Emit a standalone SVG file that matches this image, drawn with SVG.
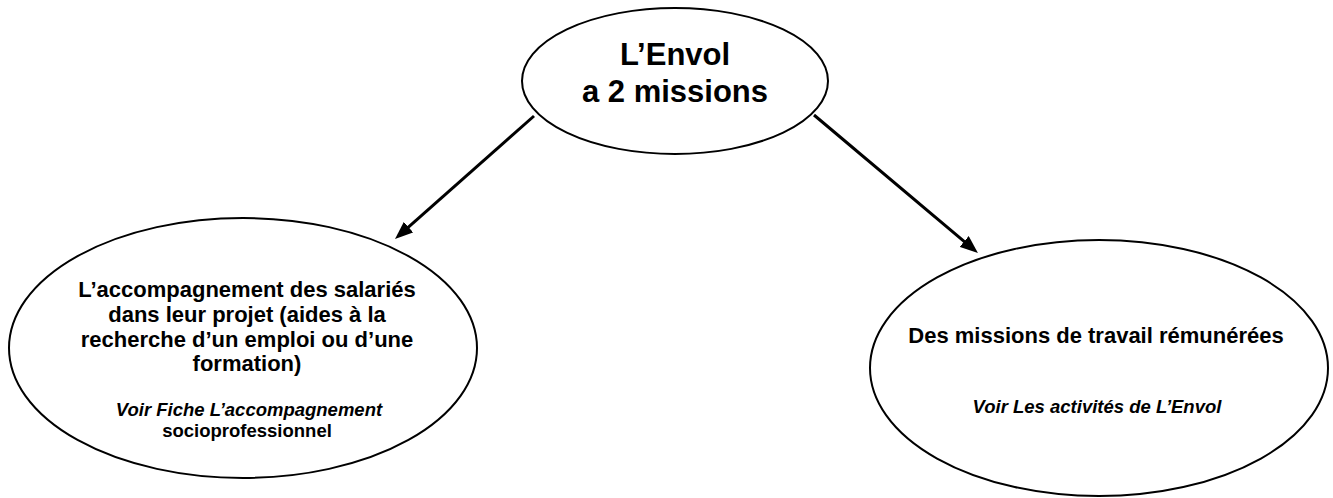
<svg xmlns="http://www.w3.org/2000/svg" width="1333" height="498" viewBox="0 0 1333 498">
<style>
.node{fill:#fff;stroke:#000;stroke-width:2}
.t{font-family:"Liberation Sans",Arial,sans-serif;font-weight:bold;fill:#000;text-anchor:middle}
.big{font-size:31px}
.mid{font-size:22px}
.it{font-size:18.5px;font-style:italic}
.sm{font-size:18.5px}
.conn{stroke:#000;stroke-width:3;fill:none}
</style>
<defs>
<marker id="arr" viewBox="0 0 18 14" refX="8" refY="7" markerWidth="18" markerHeight="14" markerUnits="userSpaceOnUse" orient="auto">
<path d="M0,0 L18,7 L0,14 Z" fill="#000"/>
</marker>
</defs>
<rect width="1333" height="498" fill="#fff"/>
<g id="connectors">
<line class="conn" x1="534" y1="116" x2="402.5" y2="232.4" marker-end="url(#arr)"/>
<line class="conn" x1="814" y1="115" x2="970.3" y2="246.6" marker-end="url(#arr)"/>
</g>
<g id="node-top">
<ellipse class="node" cx="675" cy="81" rx="153" ry="73"/>
<text class="t big" x="675" y="65">L’Envol</text>
<text class="t big" x="675" y="102">a 2 missions</text>
</g>
<g id="node-left">
<ellipse class="node" cx="243" cy="348" rx="234" ry="130"/>
<text class="t mid" x="247" y="297">L’accompagnement des salariés</text>
<text class="t mid" x="247" y="322">dans leur projet (aides à la</text>
<text class="t mid" x="247" y="347">recherche d’un emploi ou d’une</text>
<text class="t mid" x="247" y="371">formation)</text>
<text class="t it" x="249" y="416">Voir Fiche L’accompagnement</text>
<text class="t sm" x="247" y="437">socioprofessionnel</text>
</g>
<g id="node-right">
<ellipse class="node" cx="1099" cy="368" rx="229" ry="128"/>
<text class="t mid" x="1096" y="343">Des missions de travail rémunérées</text>
<text class="t it" x="1097" y="413">Voir Les activités de L’Envol</text>
</g>
</svg>
